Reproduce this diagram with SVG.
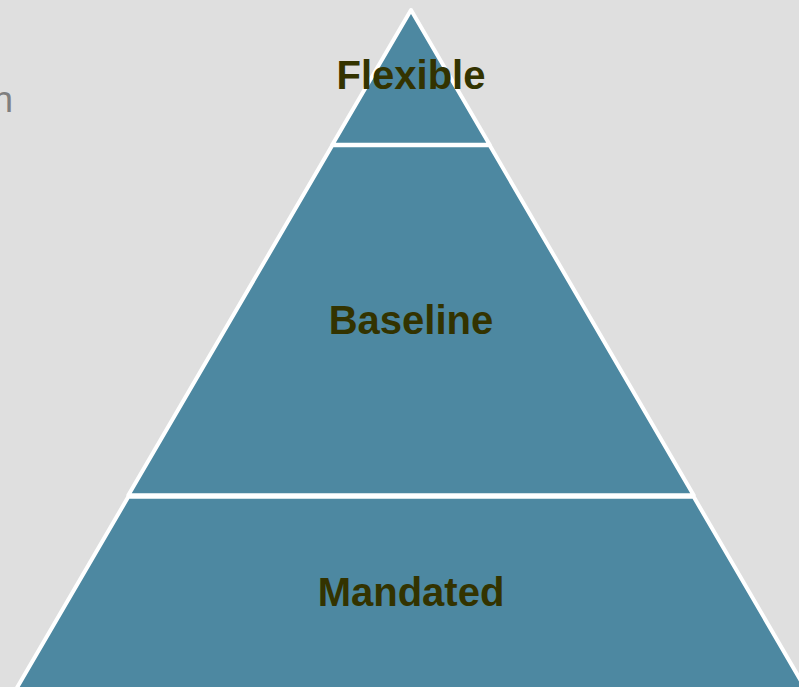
<svg xmlns="http://www.w3.org/2000/svg" width="799" height="687" viewBox="0 0 799 687">
<style>
.layer{fill:#4d88a1;stroke:#ffffff;stroke-width:4;stroke-linejoin:round}
.lbl{font-family:"Liberation Sans",Arial,sans-serif;font-weight:bold;font-size:40px;fill:#333300;text-anchor:middle}
.side{font-family:"Liberation Sans",Arial,sans-serif;font-size:37px;fill:#7f7f7f;text-anchor:end}
</style>
<rect width="799" height="687" fill="#dfdfdf"/>
<text class="side" x="13" y="112">n</text>
<g id="mandated">
<polygon class="layer" points="128.3,496.8 693.7,496.8 818,710 4,710"/>
<text class="lbl" x="411" y="606">Mandated</text>
</g>
<g id="baseline">
<polygon class="layer" points="332.3,145.3 489.7,145.3 693.7,495.2 128.3,495.2"/>
<text class="lbl" x="411" y="334">Baseline</text>
</g>
<g id="flexible">
<polygon class="layer" points="411,10 489.7,144.7 332.3,144.7"/>
<text class="lbl" x="411" y="89">Flexible</text>
</g>
</svg>
